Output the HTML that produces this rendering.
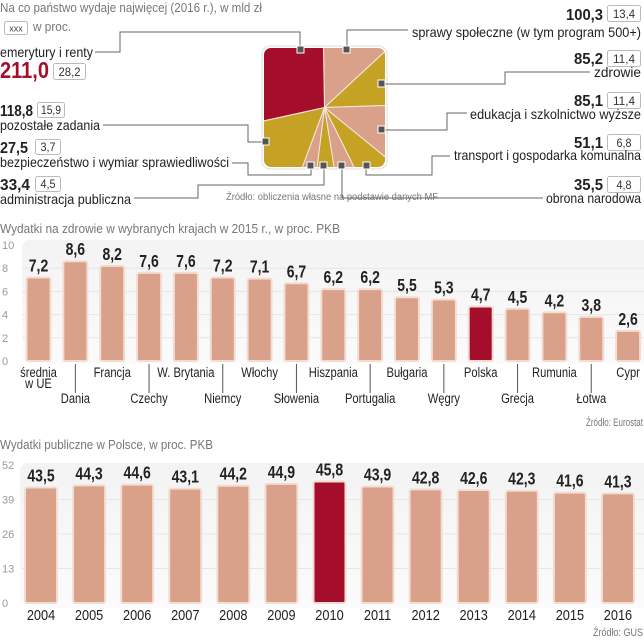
<!DOCTYPE html>
<html><head><meta charset="utf-8">
<style>
html,body{margin:0;padding:0;background:#fff;}
svg{display:block;font-family:"Liberation Sans",sans-serif;}
.t{fill:#222;font-size:14px;}
.g{fill:#777;font-size:13px;}
.b{fill:#222;font-weight:bold;font-size:16px;}
.p{font-size:12px;fill:#333;}
.bx{fill:#fff;stroke:#bbb;stroke-width:1;}
.ln{fill:none;stroke:#666;stroke-width:1;}
.mk{fill:#555;stroke:#fff;stroke-width:1;}
</style></head><body>
<svg id="s" width="644" height="640" viewBox="0 0 644 640" xmlns="http://www.w3.org/2000/svg">
<defs>
<clipPath id="pieclip"><rect x="264" y="48" width="121" height="119" rx="7"/></clipPath>
<linearGradient id="pg" x1="0" y1="0" x2="0" y2="1"><stop offset="0" stop-color="#f3f3f3"/><stop offset="1" stop-color="#fbfbfb"/></linearGradient>
</defs>

<text x="0" y="12" class="g" textLength="262" lengthAdjust="spacingAndGlyphs">Na co państwo wydaje najwięcej (2016 r.), w mld zł</text>
<rect x="4.5" y="21.5" width="23" height="13" rx="2" class="bx"/>
<text x="16" y="31.5" text-anchor="middle" style="font-size:9px;fill:#444">xxx</text>
<text x="33" y="31" class="g" textLength="38" lengthAdjust="spacingAndGlyphs">w proc.</text>

<rect x="262" y="46" width="125" height="123" rx="8" fill="#fff" stroke="#ddd"/>
<g id="pie" clip-path="url(#pieclip)"></g>

<g id="labels1">
<text x="0" y="57" class="t" textLength="93" lengthAdjust="spacingAndGlyphs">emerytury i renty</text>
<text x="0" y="78" style="font-size:23px;font-weight:bold;fill:#a50e2a" textLength="49" lengthAdjust="spacingAndGlyphs">211,0</text>
<rect x="53.5" y="63.5" width="32" height="16" rx="2" class="bx"/>
<text x="69.5" y="76" text-anchor="middle" class="p" textLength="22" lengthAdjust="spacingAndGlyphs">28,2</text>

<text x="0" y="116" class="b" textLength="33" lengthAdjust="spacingAndGlyphs">118,8</text>
<rect x="37.5" y="102.5" width="27" height="15" rx="2" class="bx"/>
<text x="51" y="114" text-anchor="middle" class="p" textLength="20" lengthAdjust="spacingAndGlyphs">15,9</text>
<text x="0" y="130" class="t" textLength="100" lengthAdjust="spacingAndGlyphs">pozostałe zadania</text>

<text x="0" y="153" class="b" textLength="28" lengthAdjust="spacingAndGlyphs">27,5</text>
<rect x="35.5" y="139.5" width="25" height="15" rx="2" class="bx"/>
<text x="48" y="151" text-anchor="middle" class="p" textLength="15" lengthAdjust="spacingAndGlyphs">3,7</text>
<text x="0" y="167" class="t" textLength="229" lengthAdjust="spacingAndGlyphs">bezpieczeństwo i wymiar sprawiedliwości</text>

<text x="0" y="190" class="b" textLength="30" lengthAdjust="spacingAndGlyphs">33,4</text>
<rect x="35.5" y="176.5" width="25" height="15" rx="2" class="bx"/>
<text x="48" y="188" text-anchor="middle" class="p" textLength="15" lengthAdjust="spacingAndGlyphs">4,5</text>
<text x="0" y="204" class="t" textLength="131" lengthAdjust="spacingAndGlyphs">administracja publiczna</text>

<text x="566" y="20" class="b" textLength="37" lengthAdjust="spacingAndGlyphs">100,3</text>
<rect x="607.5" y="5.5" width="33" height="16" rx="2" class="bx"/>
<text x="624" y="18" text-anchor="middle" class="p" textLength="22" lengthAdjust="spacingAndGlyphs">13,4</text>
<text x="412" y="37" class="t" textLength="229" lengthAdjust="spacingAndGlyphs">sprawy społeczne (w tym program 500+)</text>

<text x="574" y="64" class="b" textLength="29" lengthAdjust="spacingAndGlyphs">85,2</text>
<rect x="607.5" y="50.5" width="33" height="16" rx="2" class="bx"/>
<text x="624" y="63" text-anchor="middle" class="p" textLength="22" lengthAdjust="spacingAndGlyphs">11,4</text>
<text x="594" y="77" class="t" textLength="47" lengthAdjust="spacingAndGlyphs">zdrowie</text>

<text x="574" y="106" class="b" textLength="29" lengthAdjust="spacingAndGlyphs">85,1</text>
<rect x="607.5" y="92.5" width="33" height="16" rx="2" class="bx"/>
<text x="624" y="105" text-anchor="middle" class="p" textLength="22" lengthAdjust="spacingAndGlyphs">11,4</text>
<text x="470" y="119" class="t" textLength="171" lengthAdjust="spacingAndGlyphs">edukacja i szkolnictwo wyższe</text>

<text x="574" y="148" class="b" textLength="29" lengthAdjust="spacingAndGlyphs">51,1</text>
<rect x="607.5" y="134.5" width="33" height="16" rx="2" class="bx"/>
<text x="624" y="147" text-anchor="middle" class="p" textLength="15" lengthAdjust="spacingAndGlyphs">6,8</text>
<text x="454" y="160" class="t" textLength="187" lengthAdjust="spacingAndGlyphs">transport i gospodarka komunalna</text>

<text x="574" y="190" class="b" textLength="29" lengthAdjust="spacingAndGlyphs">35,5</text>
<rect x="607.5" y="176.5" width="33" height="16" rx="2" class="bx"/>
<text x="624" y="189" text-anchor="middle" class="p" textLength="15" lengthAdjust="spacingAndGlyphs">4,8</text>
<text x="546" y="203" class="t" textLength="95" lengthAdjust="spacingAndGlyphs">obrona narodowa</text>

<text x="226" y="200" style="font-size:10px;fill:#777" textLength="212" lengthAdjust="spacingAndGlyphs">Źródło: obliczenia własne na podstawie danych MF</text>
</g>

<g>
<polyline class="ln" points="95,52 120,52 120,32 300,32 300,49"/>
<polyline class="ln" points="347,49 347,30 408,30"/>
<polyline class="ln" points="381,84 505,84 505,72 590,72"/>
<polyline class="ln" points="381,130 447,130 447,113 467,113"/>
<polyline class="ln" points="366,166 366,175 432,175 432,156 450,156"/>
<polyline class="ln" points="342,166 342,198 543,198"/>
<polyline class="ln" points="103,125 248,125 248,142 265,142"/>
<polyline class="ln" points="232,163 248,163 248,175 311,175 311,166"/>
<polyline class="ln" points="134,198 198,198 198,185 324,185 324,166"/>
<rect x="297" y="46" width="7" height="7" class="mk"/>
<rect x="343" y="46" width="7" height="7" class="mk"/>
<rect x="378" y="80" width="7" height="7" class="mk"/>
<rect x="378" y="126" width="7" height="7" class="mk"/>
<rect x="262" y="138" width="7" height="7" class="mk"/>
<rect x="307" y="162" width="7" height="7" class="mk"/>
<rect x="320" y="162" width="7" height="7" class="mk"/>
<rect x="338" y="162" width="7" height="7" class="mk"/>
<rect x="363" y="162" width="7" height="7" class="mk"/>
</g>

<text x="0" y="233" class="g" textLength="340" lengthAdjust="spacingAndGlyphs">Wydatki na zdrowie w wybranych krajach w 2015 r., w proc. PKB</text>
<rect x="22" y="240" width="640" height="124" rx="8" fill="url(#pg)"/>
<g id="c2"></g>
<text x="643" y="426" text-anchor="end" style="font-size:11px;fill:#777" textLength="57" lengthAdjust="spacingAndGlyphs">Źródło: Eurostat</text>

<text x="0" y="449" class="g" textLength="213" lengthAdjust="spacingAndGlyphs">Wydatki publiczne w Polsce, w proc. PKB</text>
<rect x="20" y="463" width="640" height="145" rx="8" fill="url(#pg)"/>
<g id="c3"></g>
<text x="643" y="636" text-anchor="end" style="font-size:11px;fill:#777" textLength="50" lengthAdjust="spacingAndGlyphs">Źródło: GUS</text>
</svg>
<script>
const pieNames = ["sprawy-spoleczne","zdrowie","edukacja","transport","obrona","administracja","bezpieczenstwo","pozostale","emerytury"];
const piePct = [13.4,11.4,11.4,6.8,4.8,4.5,3.7,15.9,28.2];
const pieColors = ["#d9a08a","#c5a124","#d9a08a","#c5a124","#d9a08a","#c5a124","#d9a08a","#c5a124","#a50e2a"];

const c2Cats = ["średnia|w UE","Dania","Francja","Czechy","W. Brytania","Niemcy","Włochy","Słowenia","Hiszpania","Portugalia","Bułgaria","Węgry","Polska","Grecja","Rumunia","Łotwa","Cypr"];
const c2Vals = [7.2,8.6,8.2,7.6,7.6,7.2,7.1,6.7,6.2,6.2,5.5,5.3,4.7,4.5,4.2,3.8,2.6];
const c2Ticks = [0,2,4,6,8,10];
const c2Hi = "Polska";

const c3Cats = ["2004","2005","2006","2007","2008","2009","2010","2011","2012","2013","2014","2015","2016"];
const c3Vals = [43.5,44.3,44.6,43.1,44.2,44.9,45.8,43.9,42.8,42.6,42.3,41.6,41.3];
const c3Ticks = [0,13,26,39,52];
const c3Hi = "2010";

const NS="http://www.w3.org/2000/svg";
function mk(tag, attrs, parent){const e=document.createElementNS(NS,tag);for(const k in attrs)e.setAttribute(k,attrs[k]);parent.appendChild(e);return e;}
function fmt(v){return v.toFixed(1).replace('.',',');}

(function(){
  const g=document.getElementById('pie');
  const cx=324.5, cy=107.5, R=200;
  const total=piePct.reduce((a,b)=>a+b,0);
  let a=-91*Math.PI/180;
  piePct.forEach((p,i)=>{
    const a2=a+p/total*2*Math.PI;
    const large=(a2-a)>Math.PI?1:0;
    const d=`M${cx},${cy} L${cx+R*Math.cos(a)},${cy+R*Math.sin(a)} A${R},${R} 0 ${large} 1 ${cx+R*Math.cos(a2)},${cy+R*Math.sin(a2)} Z`;
    const e=mk('path',{d:d,fill:pieColors[i],stroke:'#f6e8e0','stroke-width':1},g);
    
    
    a=a2;
  });
})();

function barChart(id, cats, vals, ticks, hi, o){
  const g=document.getElementById(id);
  const max=ticks[ticks.length-1];
  const y=v=>o.y0-(v/max)*(o.y0-o.yTop);
  const x=i=>o.c0+i*o.step;
  ticks.forEach(t=>{
    if(t>0&&t<max){const l=mk('line',{x1:22,x2:644,y1:y(t),y2:y(t),stroke:'#e6e6e6'},g);
    
    }
    const tx=mk('text',{x:2,y:y(t)+4,style:'font-size:11px;fill:#999'},g);
    tx.textContent=t;
    
    
  });
  cats.forEach((c,i)=>{
    const cx=x(i), v=vals[i];
    const r=mk('rect',{x:cx-o.w/2,y:y(v),width:o.w,height:o.y0-y(v),rx:2,fill:c===hi?'#a50e2a':'#d9a08a',stroke:'#f3ddd3','stroke-width':2},g);
    
    
    const vt=mk('text',{x:0,y:0,transform:`translate(${cx},${y(v)-6}) scale(0.78,1)`,'text-anchor':'middle',style:'font-weight:bold;font-size:'+o.vf+'px;fill:#222'},g);
    vt.textContent=fmt(v);
    
    
    const low=o.stagger && i%2===1;
    const parts=c.split('|');
    if(low){
      const tl=mk('line',{x1:cx,x2:cx,y1:o.y0+3,y2:o.y0+32,stroke:'#555'},g);
      
      
    }
    parts.forEach((p,j)=>{
      const lt=mk('text',{x:0,y:0,transform:`translate(${cx},${o.y0+o.ly+(low?26:0)+j*11}) scale(${o.ls},1)`,'text-anchor':'middle',style:'font-size:'+o.lf+'px;fill:#222'},g);
      lt.textContent=p;
      
      
    });
  });
}
barChart('c2',c2Cats,c2Vals,c2Ticks,c2Hi,{y0:361,yTop:245,c0:38.5,step:36.85,w:24,vf:18,lf:14,ls:0.8,ly:16,stagger:true});
barChart('c3',c3Cats,c3Vals,c3Ticks,c3Hi,{y0:603,yTop:465,c0:41,step:48.08,w:32,vf:18,lf:15,ls:0.85,ly:17,stagger:false});
</script>
</body></html>
